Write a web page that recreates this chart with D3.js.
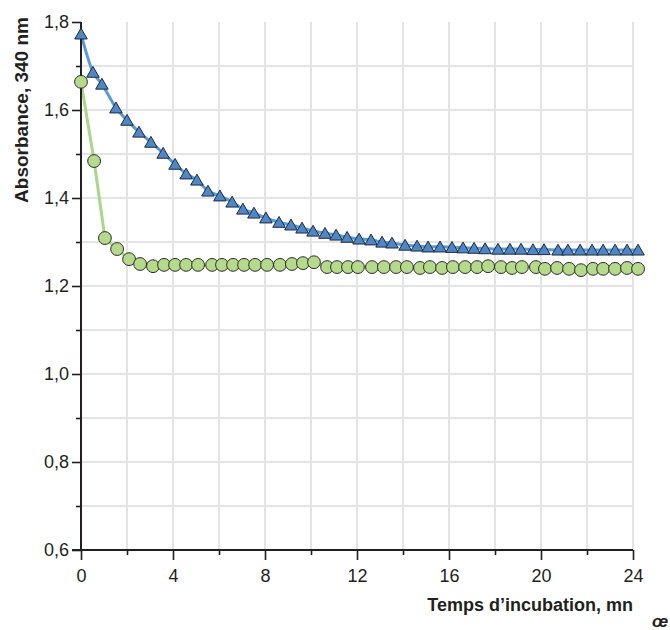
<!DOCTYPE html>
<html>
<head>
<meta charset="utf-8">
<script src="https://cdn.jsdelivr.net/npm/d3@7"></script>
<style>
  html, body { margin: 0; padding: 0; background: #fff; }
  svg { display: block; }
  text { font-family: Arial, "Liberation Sans", sans-serif; fill: #231f20; }
</style>
</head>
<body>
<svg id="chart" width="670" height="630"></svg>
<script>
// ---- data ----
const timesBlue = [0, 0.52, 0.91, 1.52, 2.0, 2.52, 3.04, 3.57, 4.09, 4.57, 5.04, 5.52, 6.04, 6.57, 7.04, 7.52,
  8.04, 8.61, 9.13, 9.61, 10.09, 10.61, 11.09, 11.57, 12.09, 12.61, 13.09, 13.52, 14.09, 14.61, 15.09, 15.61,
  16.13, 16.61, 17.09, 17.57, 18.13, 18.65, 19.13, 19.65, 20.13, 20.74, 21.17, 21.7, 22.22, 22.7, 23.22, 23.74, 24.22];
const absBlue = [1.773, 1.686, 1.659, 1.605, 1.577, 1.55, 1.527, 1.502, 1.477, 1.455, 1.441, 1.416, 1.405, 1.391,
  1.375, 1.366, 1.355, 1.345, 1.339, 1.332, 1.325, 1.320, 1.316, 1.311, 1.307, 1.305, 1.300, 1.298, 1.293, 1.291,
  1.289, 1.289, 1.288, 1.287, 1.286, 1.285, 1.284, 1.284, 1.284, 1.283, 1.283, 1.282, 1.282, 1.282, 1.282, 1.282,
  1.282, 1.282, 1.282];
const timesGreen = [0, 0.57, 1.04, 1.57, 2.09, 2.57, 3.13, 3.61, 4.09, 4.57, 5.09, 5.7, 6.13, 6.61, 7.09, 7.57,
  8.09, 8.65, 9.17, 9.65, 10.13, 10.7, 11.13, 11.61, 12.04, 12.65, 13.17, 13.7, 14.17, 14.74, 15.17, 15.7,
  16.17, 16.7, 17.22, 17.7, 18.26, 18.74, 19.17, 19.78, 20.17, 20.7, 21.22, 21.74, 22.26, 22.7, 23.22, 23.74, 24.22];
const absGreen = [1.664, 1.484, 1.309, 1.284, 1.261, 1.250, 1.245, 1.248, 1.248, 1.248, 1.248, 1.248, 1.248, 1.248,
  1.248, 1.248, 1.248, 1.248, 1.250, 1.252, 1.254, 1.243, 1.243, 1.243, 1.243, 1.243, 1.243, 1.243, 1.243, 1.241,
  1.243, 1.241, 1.243, 1.243, 1.243, 1.245, 1.243, 1.241, 1.243, 1.243, 1.239, 1.241, 1.239, 1.236, 1.239, 1.239,
  1.239, 1.241, 1.239];
const xMajorTicks = [0, 4, 8, 12, 16, 20, 24];
const xMinorTicks = [2, 6, 10, 14, 18, 22];
const xGridTicks = [2, 4, 6, 8, 10, 12, 14, 16, 18, 20, 22, 24];
const yMajorTicks = [0.6, 0.8, 1.0, 1.2, 1.4, 1.6, 1.8];
const yMinorTicks = [0.7, 0.9, 1.1, 1.3, 1.5, 1.7];
const yGridTicks = [0.7, 0.8, 0.9, 1.0, 1.1, 1.2, 1.3, 1.4, 1.5, 1.6, 1.7];
const xTitle = "Temps d\u2019incubation, mn";
const yTitle = "Absorbance, 340 nm";

// ---- chart ----
const svg = d3.select("#chart");
const x = d3.scaleLinear().domain([0, 24]).range([81, 633]);
const y = d3.scaleLinear().domain([0.6, 1.8]).range([550, 22]);
const fmt = d => d3.format(".1f")(d).replace(".", ",");

// grid
const grid = svg.append("g").attr("stroke", "#e4e4e4").attr("stroke-width", 2);
grid.selectAll("line.v").data(xGridTicks).join("line")
  .attr("x1", d => x(d)).attr("x2", d => x(d)).attr("y1", y(1.8)).attr("y2", y(0.6));
grid.selectAll("line.h").data(yGridTicks).join("line")
  .attr("x1", x(0)).attr("x2", x(24)).attr("y1", d => y(d)).attr("y2", d => y(d));

// lines
const blueData = timesBlue.map((t, i) => [t, absBlue[i]]);
const greenData = timesGreen.map((t, i) => [t, absGreen[i]]);
svg.append("path").datum(blueData)
  .attr("fill", "none").attr("stroke", "#5b9bd5").attr("stroke-width", 3)
  .attr("d", d3.line().x(d => x(d[0])).y(d => y(d[1])).curve(d3.curveMonotoneX));
svg.append("path").datum(greenData)
  .attr("fill", "none").attr("stroke", "#a9d68c").attr("stroke-width", 3)
  .attr("d", d3.line().x(d => x(d[0])).y(d => y(d[1])));

// axes
const yAxisMajor = d3.axisLeft(y).tickValues(yMajorTicks).tickSize(9).tickPadding(3).tickFormat(fmt);
const yAxisMinor = d3.axisLeft(y).tickValues(yMinorTicks).tickSize(5).tickFormat("");
const gy = svg.append("g").attr("transform", `translate(${x(0)},0)`).call(yAxisMajor);
const gy2 = svg.append("g").attr("transform", `translate(${x(0)},0)`).call(yAxisMinor);
const xAxisMajor = d3.axisBottom(x).tickValues(xMajorTicks).tickSize(10).tickPadding(9).tickFormat(d3.format("d"));
const xAxisMinor = d3.axisBottom(x).tickValues(xMinorTicks).tickSize(5).tickFormat("");
const gx = svg.append("g").attr("transform", `translate(0,${y(0.6)})`).call(xAxisMajor);
const gx2 = svg.append("g").attr("transform", `translate(0,${y(0.6)})`).call(xAxisMinor);
[gy, gy2, gx, gx2].forEach(g => {
  g.select(".domain").remove();
  g.selectAll(".tick line").attr("stroke", "#231f20").attr("stroke-width", 1.6);
  g.selectAll(".tick text").attr("font-size", 18).attr("font-family", "Arial, 'Liberation Sans', sans-serif").attr("fill", "#231f20");
});
// axis lines
svg.append("line").attr("x1", x(0)).attr("x2", x(0)).attr("y1", y(1.8)).attr("y2", y(0.6))
  .attr("stroke", "#231f20").attr("stroke-width", 2);
svg.append("line").attr("x1", x(0) - 9).attr("x2", x(24)).attr("y1", y(0.6)).attr("y2", y(0.6))
  .attr("stroke", "#231f20").attr("stroke-width", 2);

// markers
const tri = d3.symbol().type(d3.symbolTriangle).size(68);
svg.append("g").selectAll("path").data(blueData).join("path")
  .attr("d", tri)
  .attr("transform", d => `translate(${x(d[0])},${y(d[1]) + 1.5})`)
  .attr("fill", "#4f86c6").attr("stroke", "#1f2b3a").attr("stroke-width", 1);
svg.append("g").selectAll("circle").data(greenData).join("circle")
  .attr("cx", d => x(d[0])).attr("cy", d => y(d[1])).attr("r", 6.4)
  .attr("fill", "#b6da8c").attr("stroke", "#2b2b2b").attr("stroke-width", 1);

// titles
svg.append("text").attr("x", 633).attr("y", 611).attr("text-anchor", "end")
  .attr("font-size", 18).attr("font-weight", "bold").text(xTitle);
svg.append("text").attr("transform", "translate(28,110) rotate(-90)").attr("text-anchor", "middle")
  .attr("font-size", 19).attr("font-weight", "bold").text(yTitle);
// logo mark
svg.append("text").attr("x", 668).attr("y", 627).attr("text-anchor", "end").attr("font-size", 17).attr("font-weight", "bold")
  .attr("font-style", "italic").text("\u0153");
</script>
</body>
</html>
